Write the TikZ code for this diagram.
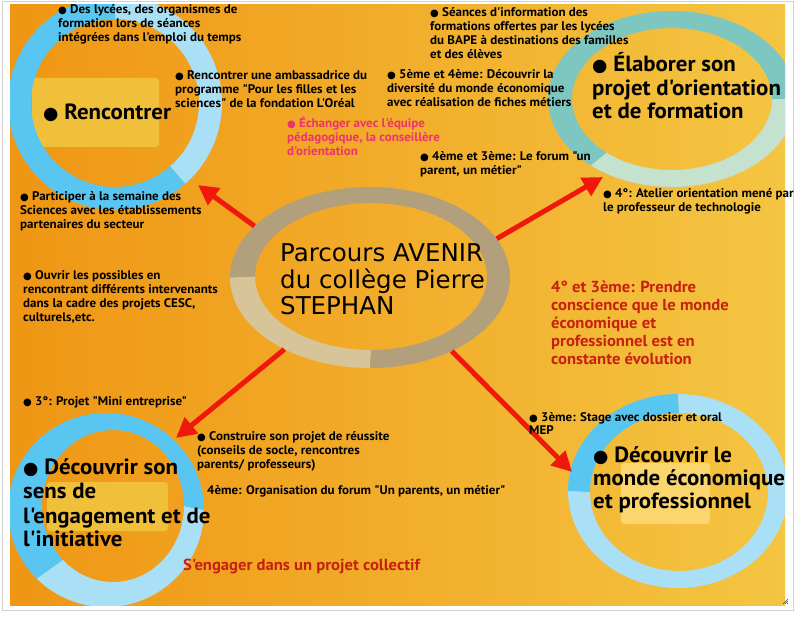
\documentclass[tikz,border=0pt]{standalone}
\usepackage{fontspec}
\setmainfont{PT Sans}
\newfontfamily\cf{PT Sans Bold}[FakeStretch=1.04]
\newfontfamily\djf{DejaVu Sans}
\usetikzlibrary{arrows.meta,shapes.geometric}
\definecolor{bgL}{RGB}{239,150,20}
\definecolor{bgR}{RGB}{244,197,66}
\definecolor{blueD}{RGB}{88,198,240}
\definecolor{blueL}{RGB}{170,224,245}
\definecolor{tealD}{RGB}{126,198,192}
\definecolor{tealL}{RGB}{196,226,205}
\definecolor{taupe}{RGB}{178,160,125}
\definecolor{beige}{RGB}{215,196,152}
\definecolor{boxA}{RGB}{241,192,58}
\definecolor{boxB}{RGB}{250,214,108}
\definecolor{arrred}{RGB}{240,24,12}
\definecolor{redtxt}{RGB}{200,32,16}
\definecolor{pinktxt}{RGB}{238,50,110}
\newcommand\bul{{\djf\scalebox{0.8}{●}}}
\newcommand\ml[1]{\begin{tabular}[t]{@{}l@{}}#1\end{tabular}}
\tikzset{
  sm/.style={anchor=base west, inner sep=0pt, font=\cf\fontsize{12.5}{13.7}\selectfont, text=black},
  bigtxt/.style={anchor=base west, inner sep=0pt, font=\cf\fontsize{22}{23.5}\selectfont, text=black},
  redbig/.style={anchor=base west, inner sep=0pt, font=\cf\fontsize{16}{18}\selectfont, text=redtxt},
  arr/.style={draw=arrred, line width=5pt, -{Triangle[length=20pt,width=20pt]}},
  hbox/.style={rounded corners=3pt},
}
\begin{document}
\begin{tikzpicture}[x=1pt,y=-1pt]
\useasboundingbox (0,0) rectangle (798,617);
\fill[white] (0,0) rectangle (798,617);
\draw[black!18, line width=1pt] (2.5,1.5) rectangle (793.5,610.5);
\begin{scope}
\clip (10,5) rectangle (785,605);
\shade[left color=bgL, right color=bgR] (10,5) rectangle (785,605);
% highlight boxes
\fill[boxA, hbox] (32,78) rectangle (159,147);
\fill[boxA, hbox] (47,482) rectangle (168,531);
\fill[boxB, hbox] (621,463) rectangle (710,524);
% top-left ring
\begin{scope}[shift={(115,103)}]
\fill[blueL] (-90:107) arc[start angle=-90, end angle=49, radius=107] -- (49:84) arc[start angle=49, end angle=-90, radius=84] -- cycle;
\fill[blueD] (49:107) arc[start angle=49, end angle=270, radius=107] -- (270:84) arc[start angle=270, end angle=49, radius=84] -- cycle;
\end{scope}
% top-right ring
\begin{scope}[shift={(672,99)}]
\fill[tealL] (0:124 and 88) arc[start angle=0, end angle=131, x radius=124, y radius=88] -- (131:100 and 71) arc[start angle=131, end angle=0, x radius=100, y radius=71] -- cycle;
\fill[tealD] (131:124 and 88) arc[start angle=131, end angle=360, x radius=124, y radius=88] -- (360:100 and 71) arc[start angle=360, end angle=131, x radius=100, y radius=71] -- cycle;
\end{scope}
% bottom-left ring
\begin{scope}[shift={(106,510)}]
\fill[blueL] (0:98 and 97) arc[start angle=0, end angle=135, x radius=98, y radius=97] -- ([shift={(7,-4)}]135:71 and 76) arc[start angle=135, end angle=0, x radius=71, y radius=76] -- cycle;
\fill[blueD] (135:98 and 97) arc[start angle=135, end angle=360, x radius=98, y radius=97] -- ([shift={(7,-4)}]360:71 and 76) arc[start angle=360, end angle=135, x radius=71, y radius=76] -- cycle;
\end{scope}
% bottom-right ring
\begin{scope}[shift={(678,491)}]
\fill[blueD] (180:110 and 97) arc[start angle=180, end angle=270, x radius=110, y radius=97] -- ([shift={(1,1)}]270:89 and 79) arc[start angle=270, end angle=180, x radius=89, y radius=79] -- cycle;
\fill[blueL] (270:110 and 97) arc[start angle=270, end angle=540, x radius=110, y radius=97] -- ([shift={(1,1)}]540:89 and 79) arc[start angle=540, end angle=270, x radius=89, y radius=79] -- cycle;
\end{scope}
% central ring
\begin{scope}[shift={(370,277.5)}]
\fill[beige] (90:140 and 90.5) arc[start angle=90, end angle=180, x radius=140, y radius=90.5] -- ([shift={(1,-1)}]180:116 and 73.5) arc[start angle=180, end angle=90, x radius=116, y radius=73.5] -- cycle;
\fill[taupe] (180:140 and 90.5) arc[start angle=180, end angle=450, x radius=140, y radius=90.5] -- ([shift={(1,-1)}]450:116 and 73.5) arc[start angle=450, end angle=180, x radius=116, y radius=73.5] -- cycle;
\end{scope}
\end{scope}
% nodes
\node[ellipse, minimum width=280pt, minimum height=181pt, inner sep=0pt] (ctr) at (370,277.5) {};
\coordinate (t1) at (198,185);
\coordinate (t2) at (603,177);
\coordinate (t3) at (176,438);
\coordinate (t4) at (572,472);
\draw[arr] (ctr.156) -- (t1);
\draw[arr] (ctr.17.5) -- (t2);
\draw[arr] (ctr.220.5) -- (t3);
\draw[arr] (ctr.318.4) -- (t4);
\node[anchor=base west, inner sep=0pt, font=\djf\fontsize{24.5}{24}\selectfont] (ctrtxt) at (280,262) {\ml{Parcours AVENIR\\du collège Pierre\\STEPHAN}};
% big titles
\node[bigtxt] (b1) at (43,120) {\bul{} Rencontrer};
\node[bigtxt] (b2) at (592,72) {\ml{\bul{} Élaborer son\\projet d'orientation\\et de formation}};
\node[bigtxt] (b3) at (593,462) {\ml{\bul{} Découvrir le\\monde économique\\et professionnel}};
\node[bigtxt, font=\cf\fontsize{22}{24}\selectfont] (b4) at (23,475) {\ml{\bul{} Découvrir son\\sens de\\l'engagement et de\\l'initiative}};
% small texts
\node[sm] (s1) at (58,14) {\ml{\bul{} Des lycées, des organismes de\\formation lors de séances\\intégrées dans l'emploi du temps}};
\node[sm] (s2) at (175,80) {\ml{\bul{} Rencontrer une ambassadrice du\\programme "Pour les filles et les\\sciences" de la fondation L'Oréal}};
\node[sm, text=pinktxt] (s3) at (287,128) {\ml{\bul{} Échanger avec l'équipe\\pédagogique, la conseillère\\d'orientation}};
\node[sm] (s4) at (430,17) {\ml{\bul{} Séances d'information des\\formations offertes par les lycées\\du BAPE à destinations des familles\\et des élèves}};
\node[sm] (s5) at (387,79) {\ml{\bul{} 5ème et 4ème: Découvrir la\\diversité du monde économique\\avec réalisation de fiches métiers}};
\node[sm] (s6) at (420,161) {\ml{\bul{} 4ème et 3ème: Le forum "un\\parent, un métier"}};
\node[sm] (s7) at (603,198) {\ml{\bul{} 4°: Atelier orientation mené par\\le professeur de technologie}};
\node[sm] (s8) at (20,201) {\ml{\bul{} Participer à la semaine des\\Sciences avec les établissements\\partenaires du secteur}};
\node[sm] (s9) at (23,280) {\ml{\bul{} Ouvrir les possibles en\\rencontrant différents intervenants\\dans la cadre des projets CESC,\\culturels,etc.}};
\node[redbig] (s10) at (551,293) {\ml{4° et 3ème: Prendre\\conscience que le monde\\économique et\\professionnel est en\\constante évolution}};
\node[sm] (s11) at (23,406) {\bul{} 3°: Projet "Mini entreprise"};
\node[sm] (s12) at (197,441) {\ml{\bul{} Construire son projet de réussite\\(conseils de socle, rencontres\\parents/ professeurs)}};
\node[sm] (s13) at (207,494) {4ème: Organisation du forum "Un parents, un métier"};
\node[redbig] (s14) at (183,570) {S'engager dans un projet collectif};
\node[sm] (s15) at (529,421) {\ml{\bul{} 3ème: Stage avec dossier et oral\\MEP}};
% resize grip
\draw[black!70, line width=0.6pt] (783,604) -- (788,599) (785,604) -- (788,601) (787,604) -- (788,603);
\end{tikzpicture}
\end{document}
